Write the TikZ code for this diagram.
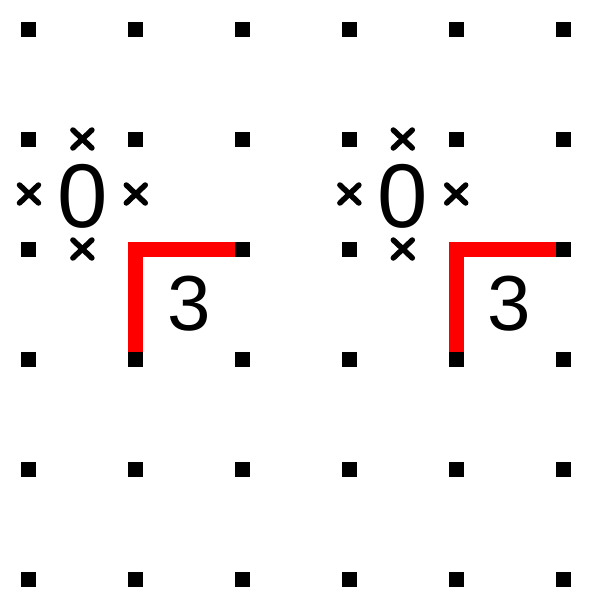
\documentclass[tikz,border=0pt]{standalone}
\usepackage{fontspec}
\setmainfont{Liberation Sans}
\usetikzlibrary{shapes.misc}
\tikzset{
  dot/.style  ={fill=black,minimum size=0.3cm,inner sep=0pt,outer sep=0pt},
  xmark/.style={cross out,draw,line width=0.11cm,line cap=round,
                minimum width=0.27cm,minimum height=0.25cm,inner sep=0pt},
  wall/.style ={draw=red,line width=0.3cm},
  zero/.style ={font=\fontsize{51.5}{52}\selectfont,inner sep=0pt},
  three/.style={font=\fontsize{44.4}{45}\selectfont,inner sep=0pt},
}

\begin{document}
\begin{tikzpicture}[x=2.136cm,y=-2.2cm]
  \useasboundingbox (-0.2715,-0.2636) rectangle (5.2715,5.2636);
  % 6x6 lattice of dots
  \foreach \i in {0,...,5} \foreach \j in {0,...,5}
    \node[dot] (d-\i-\j) at (\i,\j) {};
  % the same pair of clues, twice
  \foreach \s/\a/\b in {0/1/2, 3/4/5}{
    \begin{scope}[shift={(\s,0)}]
      \node[zero] (zero-\s) at (0.5,1.518) {0};
      \node[xmark] (xt-\s) at (0.5,1) {};
      \node[xmark] (xl-\s) at (0,1.5) {};
      \node[xmark] (xr-\s) at (1,1.5) {};
      \node[xmark] (xb-\s) at (0.5,2) {};
      \node[three] (three-\s) at (1.5,2.5) {3};
    \end{scope}
    \draw[wall] (d-\a-3) |- (d-\b-2);
  }
\end{tikzpicture}
\end{document}
